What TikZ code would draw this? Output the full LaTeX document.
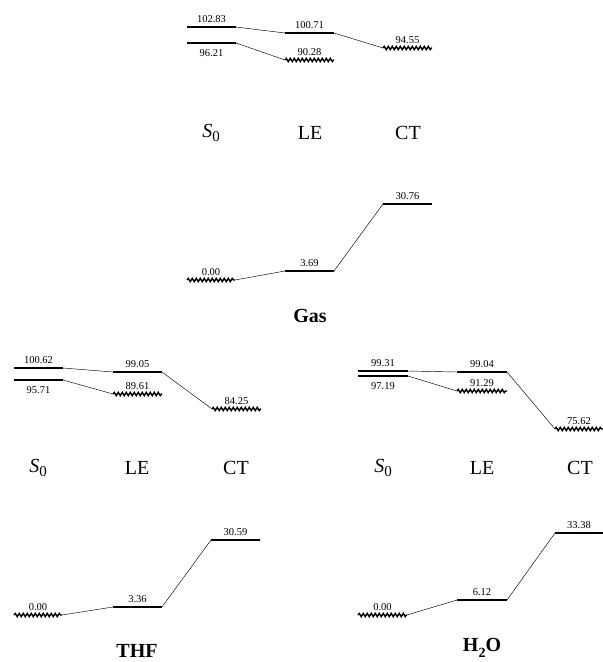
\documentclass[tikz,border=0pt]{standalone}
\usepackage{fontspec}
\setmainfont{Liberation Serif}
\usetikzlibrary{calc,decorations.pathmorphing}
\newcommand\lvl[7]{%
  \coordinate (#1-l) at (#2,#4);
  \coordinate (#1-r) at (#3,#4);
  \draw[#5] (#1-l) -- (#1-r);
  \node[num,#7] (#1-t) at ($(#1-l)!0.5!(#1-r)$) {#6};
}
\begin{document}
\begin{tikzpicture}[x=1pt,y=-1pt,
  solidlvl/.style={line width=1.6pt},
  wavelvl/.style={line width=1.4pt,decorate,decoration={snake,segment length=4pt,amplitude=1.6pt}},
  conn/.style={line width=0.45pt},
  num/.style={inner sep=0pt,font=\fontsize{10.5}{11}\selectfont},
  up/.style={yshift=7.5pt},
  upw/.style={yshift=8pt},
  down/.style={yshift=-10pt},
  state/.style={inner sep=0pt,font=\fontsize{20}{22}\selectfont},
  title/.style={inner sep=0pt,font=\fontsize{20}{22}\selectfont\bfseries}]
\useasboundingbox (0,0) rectangle (603,662);
% ---------------- Gas ----------------
\lvl{ga}{187}{236}{27}{solidlvl}{102.83}{up}
\lvl{gb}{187}{236}{43}{solidlvl}{96.21}{down}
\lvl{gla}{285}{334}{33}{solidlvl}{100.71}{up}
\lvl{glb}{285}{334}{60}{wavelvl}{90.28}{upw}
\lvl{gct}{383}{432}{48}{wavelvl}{94.55}{upw}
\draw[conn] (ga-r) -- (gla-l);
\draw[conn] (gla-r) -- (gct-l);
\draw[conn] (gb-r) -- (glb-l);
\node[state] (gs0) at (211,133) {\textit{S}\raisebox{-0.22em}{\fontsize{15}{15}\selectfont 0}};
\node[state] (gle) at (310,133) {LE};
\node[state] (gctl) at (408,133) {CT};
\lvl{g0}{187}{235}{280}{wavelvl}{0.00}{upw}
\lvl{g1}{285}{334}{271}{solidlvl}{3.69}{up}
\lvl{g2}{383}{432}{204}{solidlvl}{30.76}{up}
\draw[conn] (g0-r) -- (g1-l);
\draw[conn] (g1-r) -- (g2-l);
\node[title] (gas) at (310,316) {Gas};
% ---------------- THF ----------------
\lvl{ta}{14}{63}{368}{solidlvl}{100.62}{up}
\lvl{tb}{14}{63}{380}{solidlvl}{95.71}{down}
\lvl{tla}{113}{162}{372}{solidlvl}{99.05}{up}
\lvl{tlb}{113}{162}{394}{wavelvl}{89.61}{upw}
\lvl{tct}{212}{261}{409}{wavelvl}{84.25}{upw}
\draw[conn] (ta-r) -- (tla-l);
\draw[conn] (tla-r) -- (tct-l);
\draw[conn] (tb-r) -- (tlb-l);
\node[state] (ts0) at (38,468) {\textit{S}\raisebox{-0.22em}{\fontsize{15}{15}\selectfont 0}};
\node[state] (tle) at (137,468) {LE};
\node[state] (tctl) at (236,468) {CT};
\lvl{t0}{14}{62}{615}{wavelvl}{0.00}{upw}
\lvl{t1}{113}{162}{607}{solidlvl}{3.36}{up}
\lvl{t2}{211}{260}{540}{solidlvl}{30.59}{up}
\draw[conn] (t0-r) -- (t1-l);
\draw[conn] (t1-r) -- (t2-l);
\node[title] (thf) at (137,651) {THF};
% ---------------- H2O ----------------
\lvl{wa}{358}{408}{371}{solidlvl}{99.31}{up}
\lvl{wb}{358}{408}{376}{solidlvl}{97.19}{down}
\lvl{wla}{457}{507}{372}{solidlvl}{99.04}{up}
\lvl{wlb}{457}{507}{391}{wavelvl}{91.29}{upw}
\lvl{wct}{555}{603}{429}{wavelvl}{75.62}{upw}
\draw[conn] (wa-r) -- (wla-l);
\draw[conn] (wla-r) -- (wct-l);
\draw[conn] (wb-r) -- (wlb-l);
\node[state] (ws0) at (383,468) {\textit{S}\raisebox{-0.22em}{\fontsize{15}{15}\selectfont 0}};
\node[state] (wle) at (482,468) {LE};
\node[state] (wctl) at (580,468) {CT};
\lvl{w0}{358}{407}{615}{wavelvl}{0.00}{upw}
\lvl{w1}{457}{507}{600}{solidlvl}{6.12}{up}
\lvl{w2}{555}{603}{533}{solidlvl}{33.38}{up}
\draw[conn] (w0-r) -- (w1-l);
\draw[conn] (w1-r) -- (w2-l);
\node[title] (h2o) at (482,648) {H\raisebox{-0.3em}{\fontsize{14}{14}\selectfont 2}O};
\end{tikzpicture}
\end{document}
